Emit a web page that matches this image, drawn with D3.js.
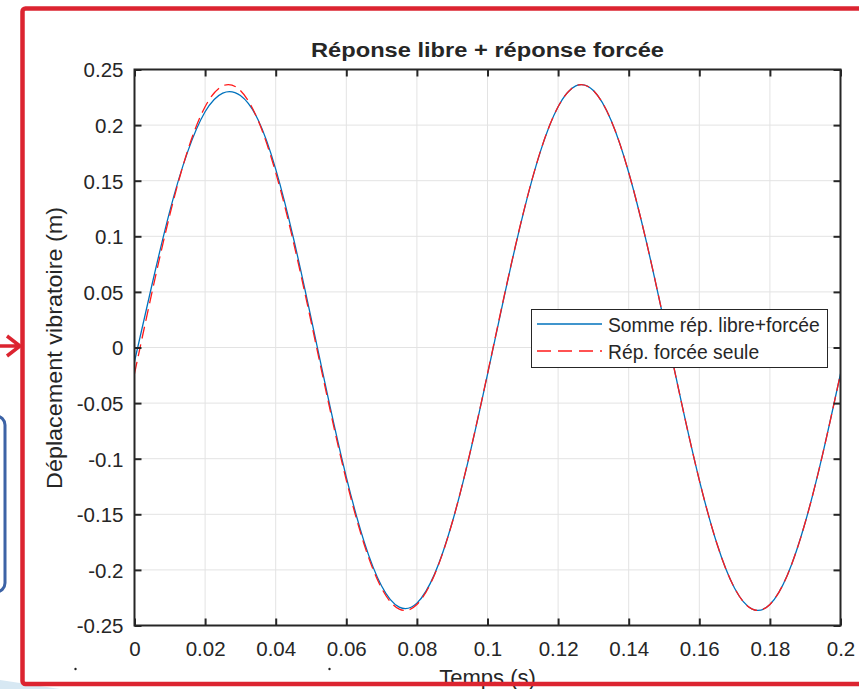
<!DOCTYPE html>
<html><head><meta charset="utf-8">
<script src="https://cdn.jsdelivr.net/npm/d3@7"></script>
<style>
body{margin:0;background:#fff}
svg{display:block}
text{font-family:"Liberation Sans",Arial,Helvetica,sans-serif;fill:#262626}
</style></head><body>
<svg id="c" width="859" height="689"></svg>
<script>
// ---- data ----
const time = [0,0.005,0.01,0.015,0.02,0.025,0.03,0.035,0.04,0.045,0.05,0.055,0.06,0.065,0.07,0.075,0.08,0.085,0.09,0.095,0.1,
  0.105,0.11,0.115,0.12,0.125,0.13,0.135,0.14,0.145,0.15,0.155,0.16,0.165,0.17,0.175,0.18,0.185,0.19,0.195,0.2];
const forced = [-0.0236,0.0503,0.1192,0.1765,0.2165,0.2353,0.2311,0.2043,0.1574,0.0952,0.0236,-0.0503,-0.1192,-0.1765,-0.2165,-0.2353,-0.2311,-0.2043,-0.1574,-0.0952,-0.0236,
  0.0503,0.1192,0.1765,0.2165,0.2353,0.2311,0.2043,0.1574,0.0952,0.0236,-0.0503,-0.1192,-0.1765,-0.2165,-0.2353,-0.2311,-0.2043,-0.1574,-0.0952,-0.0236];
const total = [-0.0126,0.0571,0.1227,0.1755,0.2120,0.2288,0.2266,0.2048,0.1604,0.0987,0.0269,-0.0473,-0.1165,-0.1741,-0.2145,-0.2335,-0.2299,-0.2038,-0.1574,-0.0956,-0.0242,
  0.0498,0.1189,0.1764,0.2165,0.2353,0.2311,0.2043,0.1574,0.0952,0.0236,-0.0503,-0.1192,-0.1765,-0.2165,-0.2353,-0.2311,-0.2043,-0.1574,-0.0952,-0.0236];
const xTicks = [0,0.02,0.04,0.06,0.08,0.1,0.12,0.14,0.16,0.18,0.2];
const xTickLabels = ["0","0.02","0.04","0.06","0.08","0.1","0.12","0.14","0.16","0.18","0.2"];
const yTicks = [-0.25,-0.2,-0.15,-0.1,-0.05,0,0.05,0.1,0.15,0.2,0.25];
const yTickLabels = ["-0.25","-0.2","-0.15","-0.1","-0.05","0","0.05","0.1","0.15","0.2","0.25"];
const seriesNames = ["Somme rép. libre+forcée","Rép. forcée seule"];
const titleText = "Réponse libre + réponse forcée";
const xLabelText = "Temps (s)";
const yLabelText = "Déplacement vibratoire (m)";

// ---- layout ----
const L = 134.5, R = 840.5, T = 69.5, B = 625.5;
const svg = d3.select("#c");
const x = d3.scaleLinear().domain([0,0.2]).range([L,R]);
const y = d3.scaleLinear().domain([-0.25,0.25]).range([B,T]);
const axisCol = "#262626";

// decorations outside the frame
svg.append("rect").attr("x",-40).attr("y",416).attr("width",45).attr("height",176).attr("rx",9)
  .attr("fill","#fff").attr("stroke","#3d63a6").attr("stroke-width",3);
svg.append("path").attr("d","M0,680 L60,689 L0,689 Z").attr("fill","#d7e8f3");
svg.append("path").attr("d","M0,346 L18,346 M7,336 L20,346 L7,356").attr("fill","none")
  .attr("stroke","#dc2430").attr("stroke-width",3.5);

// grid
const gridG = svg.append("g");
gridG.selectAll("line.gx").data(xTicks).join("line")
  .attr("x1",d=>x(d)).attr("x2",d=>x(d)).attr("y1",T).attr("y2",B)
  .attr("stroke","#e3e3e3").attr("stroke-width",1);
gridG.selectAll("line.gy").data(yTicks).join("line")
  .attr("y1",d=>y(d)).attr("y2",d=>y(d)).attr("x1",L).attr("x2",R)
  .attr("stroke","#e3e3e3").attr("stroke-width",1);

// lines
svg.append("clipPath").attr("id","clip").append("rect").attr("x",L).attr("y",T).attr("width",R-L).attr("height",B-T);
const line = d3.line().x((d,i)=>x(time[i])).y(d=>y(d)).curve(d3.curveNatural);
const plotG = svg.append("g").attr("clip-path","url(#clip)");
plotG.append("path").attr("d",line(total)).attr("fill","none").attr("stroke","#0072BD").attr("stroke-width",1.3);
plotG.append("path").attr("d",line(forced)).attr("fill","none").attr("stroke","#ff1a1a").attr("stroke-width",1.3)
  .attr("stroke-dasharray","12,6");

// axes
function styleAxis(g){
  g.select(".domain").remove();
  g.selectAll(".tick line").attr("stroke",axisCol).attr("stroke-width",2);
  g.selectAll("text").attr("fill",axisCol).style("font-size","20.5px");
}
const xb = svg.append("g").attr("transform",`translate(0,${B})`)
  .call(d3.axisBottom(x).tickValues(xTicks).tickFormat((d,i)=>xTickLabels[i]).tickSizeInner(-7).tickSizeOuter(0));
styleAxis(xb);
xb.selectAll("text").attr("y",30).attr("dy",0);
const xt = svg.append("g").attr("transform",`translate(0,${T})`)
  .call(d3.axisTop(x).tickValues(xTicks).tickFormat("").tickSizeInner(-7).tickSizeOuter(0));
styleAxis(xt);
const yl = svg.append("g").attr("transform",`translate(${L},0)`)
  .call(d3.axisLeft(y).tickValues(yTicks).tickFormat((d,i)=>yTickLabels[i]).tickSizeInner(-7).tickSizeOuter(0));
styleAxis(yl);
yl.selectAll("text").attr("x",-11).attr("dy","0.36em");
const yr = svg.append("g").attr("transform",`translate(${R},0)`)
  .call(d3.axisRight(y).tickValues(yTicks).tickFormat("").tickSizeInner(-7).tickSizeOuter(0));
styleAxis(yr);
svg.selectAll("g.tick text").attr("font-family",null);

// box
svg.append("rect").attr("x",L).attr("y",T).attr("width",R-L).attr("height",B-T)
  .attr("fill","none").attr("stroke",axisCol).attr("stroke-width",2);

// title & labels
svg.append("text").attr("x",(L+R)/2).attr("y",57).attr("text-anchor","middle")
  .style("font-size","19.5px").style("font-weight","bold").attr("fill","#000")
  .attr("textLength",353).attr("lengthAdjust","spacingAndGlyphs").text(titleText);
svg.append("text").attr("transform","translate(62,348) rotate(-90)").attr("text-anchor","middle")
  .style("font-size","22px").attr("textLength",282).attr("lengthAdjust","spacingAndGlyphs").text(yLabelText);
svg.append("text").attr("x",(L+R)/2).attr("y",685).attr("text-anchor","middle")
  .style("font-size","22px").text(xLabelText);

// stray dots
svg.append("circle").attr("cx",75.5).attr("cy",669).attr("r",1.2).attr("fill","#222");
svg.append("circle").attr("cx",329.5).attr("cy",669).attr("r",1.2).attr("fill","#222");

// legend
const lg = svg.append("g");
lg.append("rect").attr("x",531.5).attr("y",309.5).attr("width",296).attr("height",58)
  .attr("fill","#fff").attr("stroke",axisCol).attr("stroke-width",1);
const legRows = [{name:seriesNames[0],col:"#0072BD",dash:null,yy:324},{name:seriesNames[1],col:"#ff1a1a",dash:"14,7",yy:351}];
legRows.forEach(r=>{
  lg.append("line").attr("x1",537).attr("x2",602).attr("y1",r.yy).attr("y2",r.yy)
    .attr("stroke",r.col).attr("stroke-width",1.3).attr("stroke-dasharray",r.dash);
  lg.append("text").attr("x",608).attr("y",r.yy+7.5).style("font-size","19.3px").attr("fill","#000").text(r.name);
});

// red frame on top
svg.append("rect").attr("x",22.5).attr("y",8.5).attr("width",900).attr("height",675.5).attr("rx",3)
  .attr("fill","none").attr("stroke","#dc2430").attr("stroke-width",4.5);
</script></body></html>
